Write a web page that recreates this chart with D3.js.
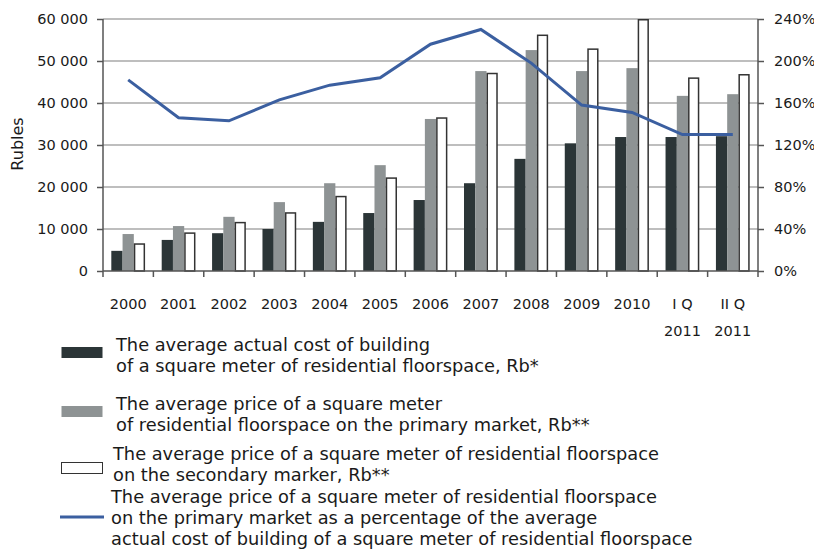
<!DOCTYPE html>
<html>
<head>
<meta charset="utf-8">
<script src="https://cdn.jsdelivr.net/npm/d3@7"></script>
<style>
  body { margin: 0; background: #fff; }
  svg text { font-family: "DejaVu Sans", sans-serif; fill: #1a1a1a; }
</style>
</head>
<body>
<div id="chart"></div>
<script>
// categories and series
const categories = ['2000', '2001', '2002', '2003', '2004', '2005', '2006', '2007', '2008', '2009', '2010', 'I Q|2011', 'II Q|2011'];
const buildCost = [4800, 7400, 9000, 10000, 11700, 13800, 16900, 20900, 26700, 30400, 31900, 31900, 32100];
const primaryPrice = [8800, 10700, 12900, 16400, 20900, 25200, 36200, 47600, 52600, 47600, 48300, 41700, 42100];
const secondaryPrice = [6600, 9200, 11700, 14000, 17900, 22300, 36600, 47200, 56300, 53000, 60000, 46100, 46900];
const primaryPct = [182, 146, 143, 163, 177, 184, 216, 230, 198, 158, 151, 130, 130];
const leftTicks = [0, 10000, 20000, 30000, 40000, 50000, 60000];
const rightTicks = [0, 40, 80, 120, 160, 200, 240];

const legendItems = [
  { type: 'bar', fill: '#2b3537', stroke: 'none', lines: ['The average actual cost of building', 'of a square meter of residential floorspace, Rb*'] },
  { type: 'bar', fill: '#8e9394', stroke: 'none', lines: ['The average price of a square meter', 'of residential floorspace on the primary market, Rb**'] },
  { type: 'bar', fill: '#fff', stroke: '#333', lines: ['The average price of a square meter of residential floorspace', 'on the secondary marker, Rb**'] },
  { type: 'line', fill: '#3b5fa0', lines: ['The average price of a square meter of residential floorspace', 'on the primary market as a percentage of the average', 'actual cost of building of a square meter of residential floorspace'] }
];

const width = 814, height = 558;
const plot = { left: 103, right: 758, top: 19, bottom: 271 };

const svg = d3.select('#chart').append('svg')
  .attr('width', width)
  .attr('height', height);

const x = d3.scaleBand()
  .domain(categories)
  .range([plot.left, plot.right])
  .paddingInner(0.33)
  .paddingOuter(0.165);

const xInner = d3.scaleBand()
  .domain([0, 1, 2])
  .range([0, x.bandwidth()]);

const y = d3.scaleLinear().domain([0, 60000]).range([plot.bottom, plot.top]);
const y2 = d3.scaleLinear().domain([0, 240]).range([plot.bottom, plot.top]);

const fmt = d3.formatLocale({ decimal: '.', thousands: ' ', grouping: [3], currency: ['', ''] }).format(',');

// gridlines
svg.append('g')
  .selectAll('line')
  .data(leftTicks.slice(1))
  .enter().append('line')
  .attr('x1', plot.left).attr('x2', plot.right)
  .attr('y1', d => y(d)).attr('y2', d => y(d))
  .style('stroke', '#a8a8a8')
  .style('stroke-width', 1.5);

// bars
const series = [
  { values: buildCost, fill: '#2b3537', stroke: 'none' },
  { values: primaryPrice, fill: '#8e9394', stroke: 'none' },
  { values: secondaryPrice, fill: '#fff', stroke: '#333' }
];

series.forEach((s, si) => {
  const inset = s.stroke === 'none' ? 0 : 0.75;
  svg.append('g')
    .selectAll('rect')
    .data(s.values)
    .enter().append('rect')
    .attr('x', (d, i) => x(categories[i]) + xInner(si) + inset)
    .attr('y', d => y(d) + inset)
    .attr('width', xInner.bandwidth() - inset * 2)
    .attr('height', d => plot.bottom - y(d) - inset)
    .attr('fill', s.fill)
    .attr('stroke', s.stroke)
    .attr('stroke-width', 1.5);
});

// axes
const yAxis = svg.append('g')
  .attr('transform', `translate(${plot.left},0)`)
  .call(d3.axisLeft(y).tickValues(leftTicks).tickFormat(fmt).tickSize(6).tickPadding(9));

const y2Axis = svg.append('g')
  .attr('transform', `translate(${plot.right},0)`)
  .call(d3.axisRight(y2).tickValues(rightTicks).tickFormat(d => d + '%').tickSize(6).tickPadding(10));

const xAxis = svg.append('g')
  .attr('transform', `translate(0,${plot.bottom})`)
  .call(d3.axisBottom(x).tickSize(0).tickFormat(''));

// boundary ticks on x axis
const boundaries = d3.range(categories.length + 1);
xAxis.selectAll('.bound')
  .data(boundaries)
  .enter().append('line')
  .attr('class', 'bound')
  .attr('x1', i => plot.left + i * x.step())
  .attr('x2', i => plot.left + i * x.step())
  .attr('y1', 0).attr('y2', 6);

// category labels (two-line for quarters)
xAxis.selectAll('.tick text').remove();
xAxis.selectAll('.tick').each(function(d) {
  const parts = d.split('|');
  const t = d3.select(this).append('text')
    .attr('y', 38)
    .attr('text-anchor', 'middle');
  parts.forEach((p, i) => {
    t.append('tspan').attr('x', 0).attr('dy', i === 0 ? 0 : 27).text(p);
  });
});

[yAxis, y2Axis, xAxis].forEach(axis => {
  axis.select('.domain').style('stroke', '#555').style('stroke-width', 1.5);
  axis.selectAll('line').style('stroke', '#555').style('stroke-width', 1.5);
  axis.selectAll('text').style('font-size', '14.5px').style('fill', '#1a1a1a').style('font-family', '"DejaVu Sans", sans-serif');
});
yAxis.select('.domain').attr('d', `M0,${plot.top}V${plot.bottom}`);
y2Axis.select('.domain').attr('d', `M0,${plot.top}V${plot.bottom}`);
xAxis.select('.domain').attr('d', `M0,0H${plot.right - plot.left}`).attr('transform', `translate(${plot.left},0)`);

// axis title
svg.append('text')
  .attr('transform', `translate(23,144) rotate(-90)`)
  .attr('text-anchor', 'middle')
  .style('font-size', '16px')
  .text('Rubles');

// percentage line
const line = d3.line()
  .x((d, i) => x(categories[i]) + x.bandwidth() / 2)
  .y(d => y2(d));

svg.append('path')
  .datum(primaryPct)
  .attr('fill', 'none')
  .attr('stroke', '#3b5fa0')
  .attr('stroke-width', 3)
  .attr('d', line);

// legend
const legendTop = [345, 404, 454, 497];
const legend = svg.append('g');
legendItems.forEach((item, i) => {
  const g = legend.append('g').attr('transform', `translate(0,${legendTop[i]})`);
  if (item.type === 'bar') {
    g.append('rect')
      .attr('x', 61.5).attr('y', i === 2 ? 8.5 : 2)
      .attr('width', 41).attr('height', 11)
      .attr('fill', item.fill)
      .attr('stroke', item.stroke)
      .attr('stroke-width', 1);
  } else {
    g.append('line')
      .attr('x1', 60).attr('x2', 104)
      .attr('y1', 20).attr('y2', 20)
      .style('stroke', item.fill)
      .style('stroke-width', 3);
  }
  const tx = [116, 116, 113, 111][i];
  item.lines.forEach((ln, j) => {
    g.append('text')
      .attr('x', tx)
      .attr('y', j * 21)
      .attr('dy', '0.35em')
      .style('font-size', '17.8px')
      .text(ln);
  });
});
</script>
</body>
</html>
